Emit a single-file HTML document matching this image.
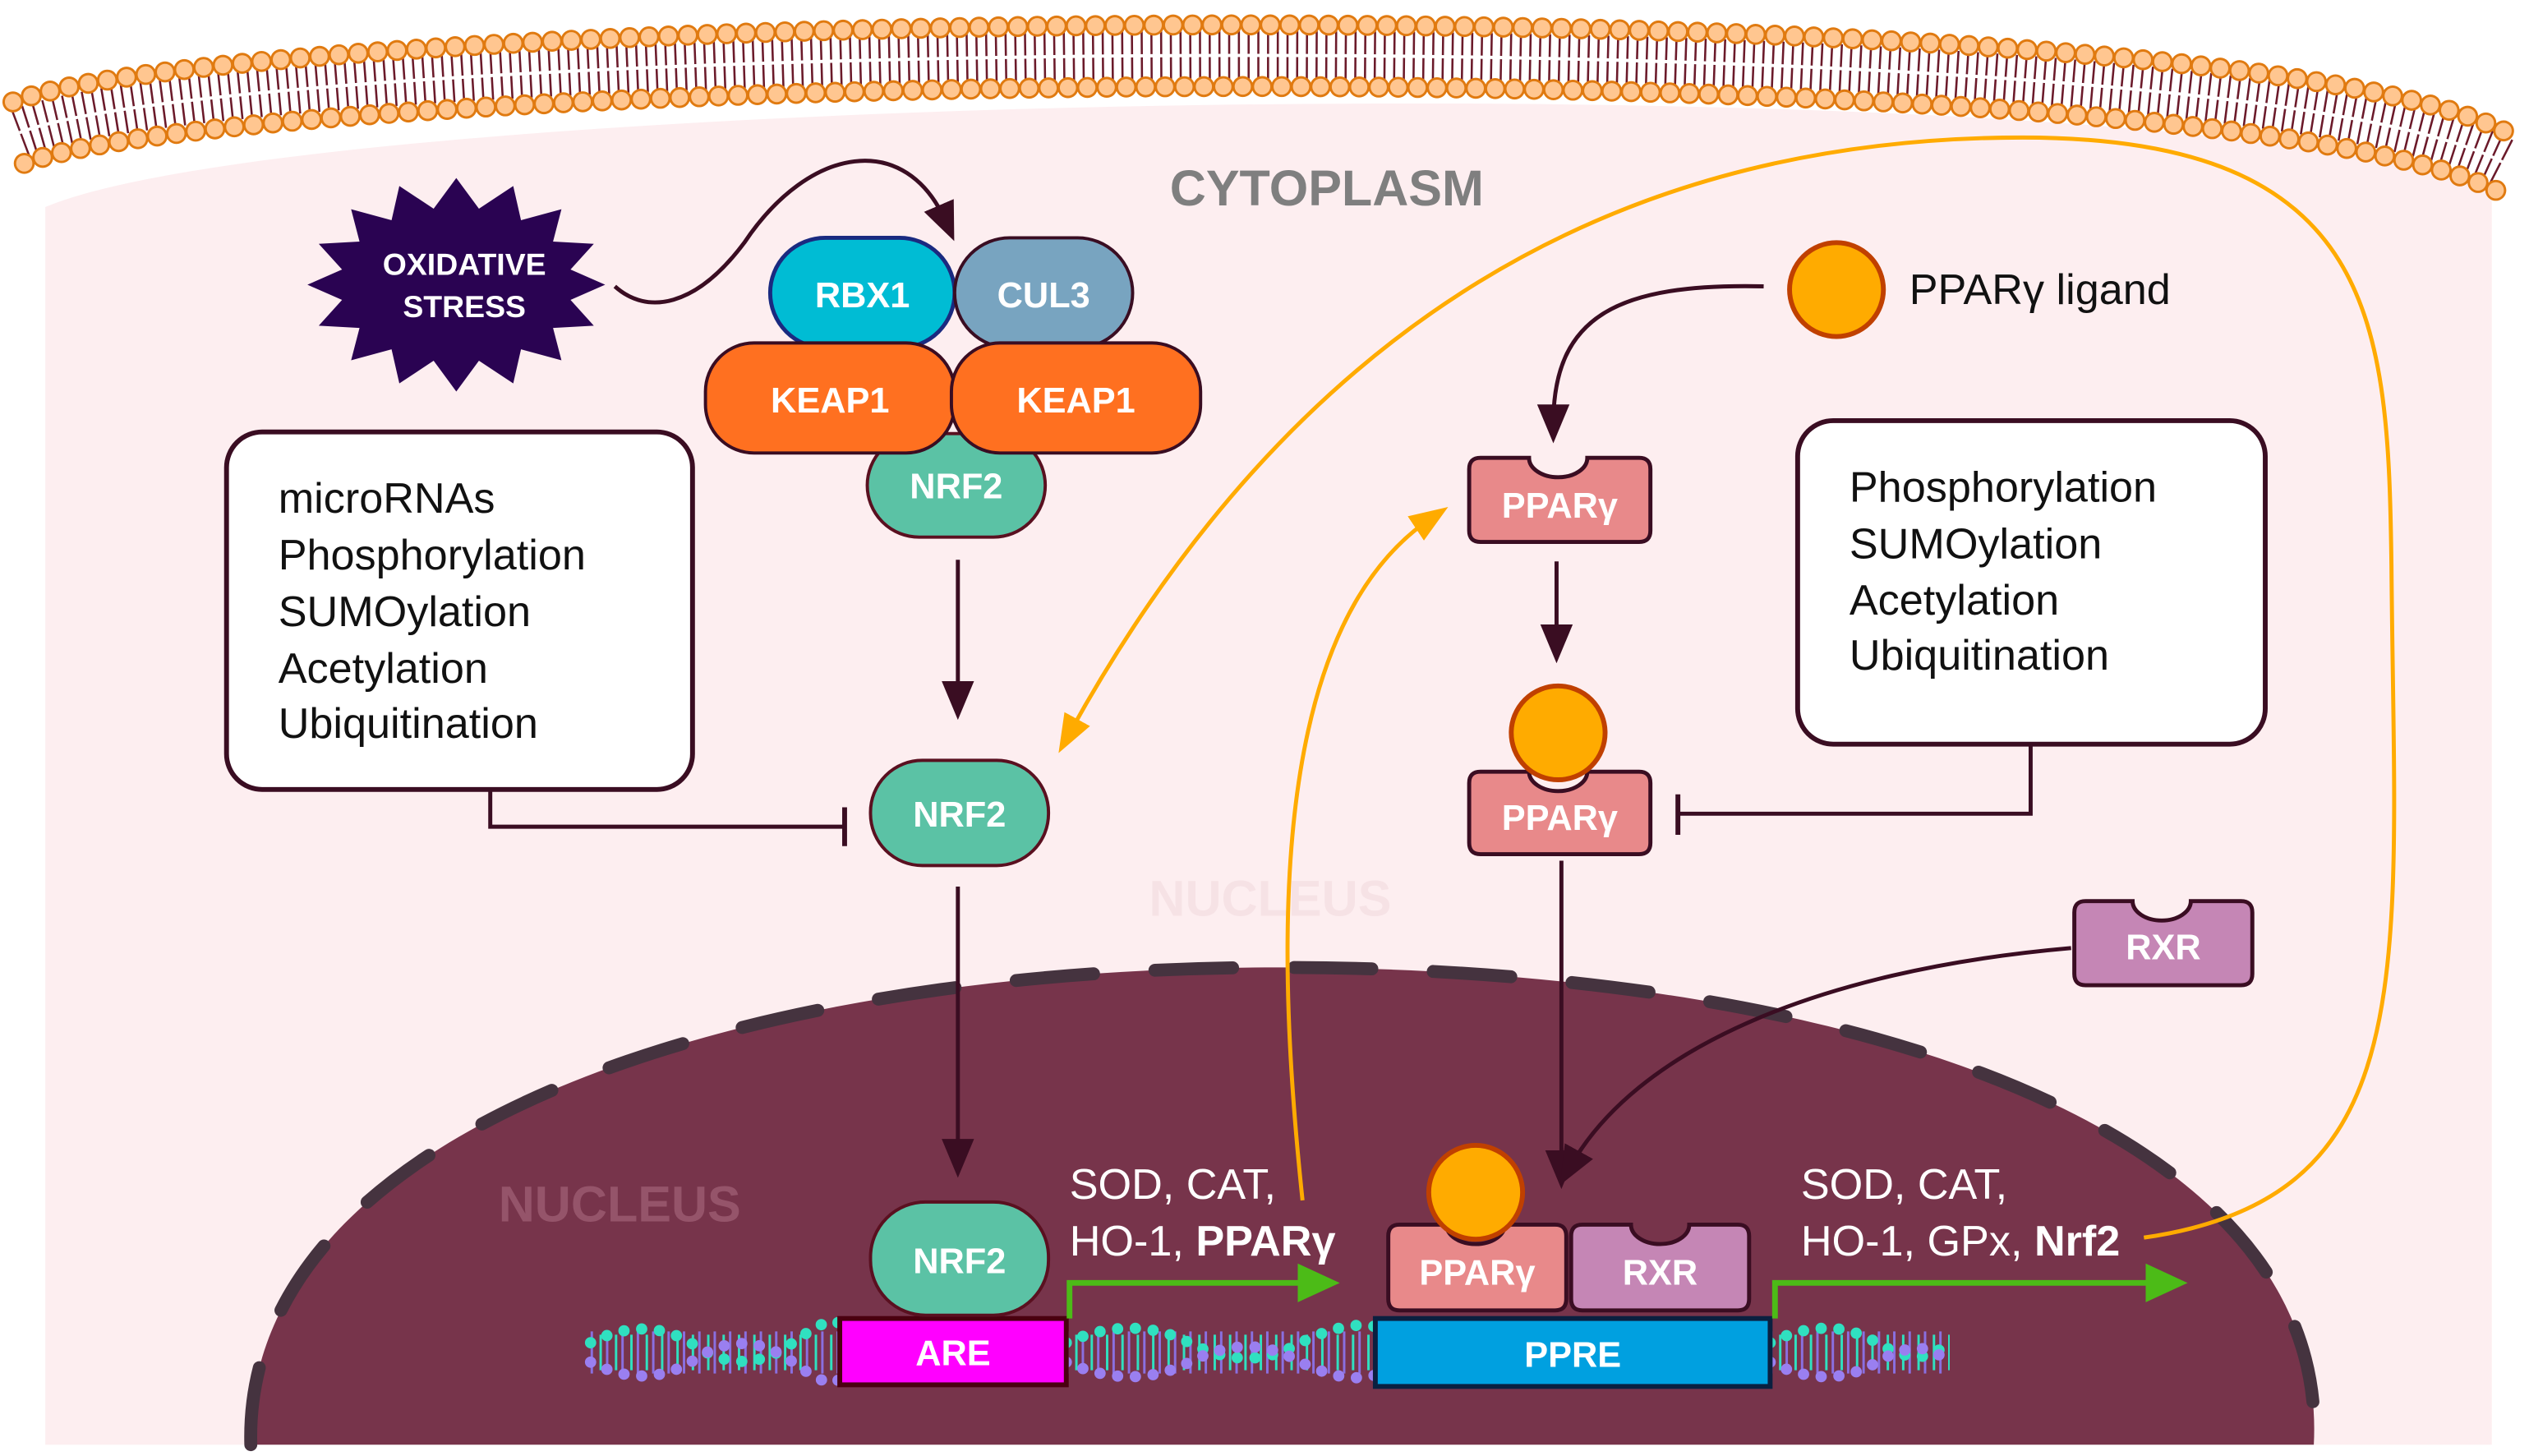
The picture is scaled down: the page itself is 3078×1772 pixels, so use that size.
<!DOCTYPE html>
<html><head><meta charset="utf-8"><style>html,body{margin:0;padding:0;background:#fff}svg{display:block}text{font-family:"Liberation Sans",sans-serif}</style></head>
<body>
<svg width="3078" height="1772" viewBox="0 0 1563 900" preserveAspectRatio="none" xmlns="http://www.w3.org/2000/svg">
<defs>
<marker id="ao" markerWidth="24" markerHeight="24" refX="12" refY="12" orient="auto" markerUnits="userSpaceOnUse"><path d="M0,3 L24,12 L0,21 Z" fill="#ffab00"/></marker>
<marker id="ak" markerWidth="24" markerHeight="24" refX="12" refY="12" orient="auto" markerUnits="userSpaceOnUse"><path d="M0,2 L24,12 L0,22 Z" fill="#3a0d22"/></marker>
<marker id="ag" markerWidth="28" markerHeight="28" refX="4" refY="14" orient="auto" markerUnits="userSpaceOnUse"><path d="M0,2 L26,14 L0,26 Z" fill="#4cbb17"/></marker>
</defs>
<rect width="1563" height="900" fill="#fff"/>
<path d="M28,893 L28,128 C200,55 1350,35 1540,118 L1540,893 Z" fill="#fdeef0"/>
<path d="M12,82 C160,25 1380,5 1550,102" fill="none" stroke="#6b1a2a" stroke-width="30" stroke-dasharray="1.3 4.7"/>
<path d="M12,82 C160,25 1380,5 1550,102" fill="none" stroke="#fff" stroke-width="2"/>
<path d="M8,63 C155,6 1385,-14 1553,84" fill="none" stroke="#e07a10" stroke-width="13" stroke-linecap="round" stroke-dasharray="0 12"/>
<path d="M8,63 C155,6 1385,-14 1553,84" fill="none" stroke="#ffc690" stroke-width="10" stroke-linecap="round" stroke-dasharray="0 12"/>
<path d="M15,101 C165,44 1375,25 1547,120" fill="none" stroke="#e07a10" stroke-width="13" stroke-linecap="round" stroke-dasharray="0 12"/>
<path d="M15,101 C165,44 1375,25 1547,120" fill="none" stroke="#ffc690" stroke-width="10" stroke-linecap="round" stroke-dasharray="0 12"/>
<path d="M155,893 C150,700 450,598 790,598 C1150,598 1440,700 1430,893 Z" fill="#77344b"/>
<path d="M155,893 C150,700 450,598 790,598 C1150,598 1440,700 1430,893" fill="none" stroke="#45333f" stroke-width="8" stroke-linecap="round" stroke-dasharray="48 38"/>
<text x="820" y="127" font-size="31" font-weight="bold" fill="#7f7f7f" text-anchor="middle">CYTOPLASM</text>
<text x="785" y="566" font-size="31" font-weight="bold" fill="#f6e2e5" text-anchor="middle">NUCLEUS</text>
<text x="383" y="755" font-size="31" font-weight="bold" fill="#95546a" text-anchor="middle">NUCLEUS</text>
<polygon points="374,176 352.6,185.4 367,201.3 341.8,202.7 347,222.7 322,215.9 317.2,237 296,223 282,242 268,223 246.8,237 242,215.9 217,222.7 222.2,202.7 197,201.3 211.4,185.4 190,176 211.4,166.6 197,150.7 222.2,149.3 217,129.3 242,136.1 246.8,115 268,129 282,110 296,129 317.2,115 322,136.1 347,129.3 341.8,149.3 367,150.7 352.6,166.6" fill="#2a0352"/>
<text x="287" y="170" font-size="19" font-weight="bold" fill="#fff" text-anchor="middle">OXIDATIVE</text>
<text x="287" y="196" font-size="19" font-weight="bold" fill="#fff" text-anchor="middle">STRESS</text>
<path d="M380,177 C400,195 430,190 460,150 C500,90 560,80 585,138" fill="none" stroke="#3a0d22" stroke-width="2.5" marker-end="url(#ak)"/>
<rect x="476" y="147" width="114" height="68" rx="34" fill="#00bcd4" stroke="#1a2a80" stroke-width="2.5"/>
<rect x="590" y="147" width="110" height="68" rx="34" fill="#78a4c0" stroke="#3a0d22" stroke-width="2"/>
<text x="533" y="190" font-size="22" font-weight="bold" fill="#fff" text-anchor="middle">RBX1</text>
<text x="645" y="190" font-size="22" font-weight="bold" fill="#fff" text-anchor="middle">CUL3</text>
<rect x="536" y="268" width="110" height="64" rx="32" fill="#5bc2a5" stroke="#5a1020" stroke-width="2"/>
<text x="591" y="308" font-size="22" font-weight="bold" fill="#fff" text-anchor="middle">NRF2</text>
<rect x="436" y="212" width="154" height="68" rx="30" fill="#ff7020" stroke="#3a0d22" stroke-width="2"/>
<rect x="588" y="212" width="154" height="68" rx="30" fill="#ff7020" stroke="#3a0d22" stroke-width="2"/>
<text x="513" y="255" font-size="22" font-weight="bold" fill="#fff" text-anchor="middle">KEAP1</text>
<text x="665" y="255" font-size="22" font-weight="bold" fill="#fff" text-anchor="middle">KEAP1</text>
<line x1="592" y1="346" x2="592" y2="433" stroke="#3a0d22" stroke-width="2.5" marker-end="url(#ak)"/>
<rect x="538" y="470" width="110" height="65" rx="32" fill="#5bc2a5" stroke="#5a1020" stroke-width="2"/>
<text x="593" y="511" font-size="22" font-weight="bold" fill="#fff" text-anchor="middle">NRF2</text>
<line x1="592" y1="548" x2="592" y2="716" stroke="#3a0d22" stroke-width="2.5" marker-end="url(#ak)"/>
<rect x="140" y="267" width="288" height="221" rx="22" fill="#fff" stroke="#3a0d22" stroke-width="3"/>
<g font-size="26.5" fill="#111"><text x="172" y="317">microRNAs</text><text x="172" y="352">Phosphorylation</text><text x="172" y="387">SUMOylation</text><text x="172" y="422">Acetylation</text><text x="172" y="456">Ubiquitination</text></g>
<polyline points="303,488 303,511 522,511" fill="none" stroke="#3a0d22" stroke-width="2.5"/>
<line x1="522" y1="499" x2="522" y2="523" stroke="#3a0d22" stroke-width="3"/>
<rect x="1111" y="260" width="289" height="200" rx="22" fill="#fff" stroke="#3a0d22" stroke-width="3"/>
<g font-size="26.5" fill="#111"><text x="1143" y="310">Phosphorylation</text><text x="1143" y="345">SUMOylation</text><text x="1143" y="380">Acetylation</text><text x="1143" y="414">Ubiquitination</text></g>
<polyline points="1255,460 1255,503 1037,503" fill="none" stroke="#3a0d22" stroke-width="2.5"/>
<line x1="1037" y1="491" x2="1037" y2="516" stroke="#3a0d22" stroke-width="3"/>
<circle cx="1135" cy="179" r="29" fill="#ffab00" stroke="#c04000" stroke-width="3"/>
<text x="1180" y="188" font-size="26.5" fill="#111">PPARγ ligand</text>
<path d="M1090,177 C1000,175 960,195 960,262" fill="none" stroke="#3a0d22" stroke-width="2.5" marker-end="url(#ak)"/>
<path d="M908,290 Q908,283 915,283 L945,283 A18,12 0 0 0 981,283 L1013,283 Q1020,283 1020,290 L1020,328 Q1020,335 1013,335 L915,335 Q908,335 908,328 Z" fill="#e8898a" stroke="#3a0d22" stroke-width="2.5"/>
<text x="964" y="320" font-size="22" font-weight="bold" fill="#fff" text-anchor="middle">PPARγ</text>
<line x1="962" y1="347" x2="962" y2="398" stroke="#3a0d22" stroke-width="2.5" marker-end="url(#ak)"/>
<path d="M908,484 Q908,477 915,477 L945,477 A18,12 0 0 0 981,477 L1013,477 Q1020,477 1020,484 L1020,521 Q1020,528 1013,528 L915,528 Q908,528 908,521 Z" fill="#e8898a" stroke="#3a0d22" stroke-width="2.5"/>
<circle cx="963" cy="453" r="29" fill="#ffab00" stroke="#c04000" stroke-width="3"/>
<text x="964" y="513" font-size="22" font-weight="bold" fill="#fff" text-anchor="middle">PPARγ</text>
<line x1="965" y1="532" x2="965" y2="723" stroke="#3a0d22" stroke-width="2.5" marker-end="url(#ak)"/>
<path d="M1282,564 Q1282,557 1289,557 L1318,557 A18,12 0 0 0 1354,557 L1385,557 Q1392,557 1392,564 L1392,602 Q1392,609 1385,609 L1289,609 Q1282,609 1282,602 Z" fill="#c586b5" stroke="#3a0d22" stroke-width="2.5"/>
<text x="1337" y="593" font-size="22" font-weight="bold" fill="#fff" text-anchor="middle">RXR</text>
<path d="M1280,586 C1120,600 1010,650 970,722" fill="none" stroke="#3a0d22" stroke-width="2.5" marker-end="url(#ak)"/>
<g>
<path d="M365,836 L519,836 M659,836 L850,836 M1094,836 L1205,836" stroke="#8a6fe0" stroke-width="26" stroke-dasharray="1.5 8" fill="none"/>
<path d="M365,836 L519,836 M659,836 L850,836 M1094,836 L1205,836" stroke="#30e0c0" stroke-width="22" stroke-dasharray="1.5 8" stroke-dashoffset="4" fill="none"/>
<path d="M365,830 Q400,812 430,832 T490,830 T519,822 M659,830 Q700,812 735,830 T800,832 T850,820 M1094,830 Q1130,812 1160,830 T1205,828" stroke="#30e0c0" stroke-width="7" stroke-linecap="round" stroke-dasharray="0 11" fill="none"/>
<path d="M365,842 Q400,860 430,840 T490,842 T519,848 M659,842 Q700,860 735,842 T800,840 T850,850 M1094,842 Q1130,860 1160,842 T1205,844" stroke="#9a7ff0" stroke-width="7" stroke-linecap="round" stroke-dasharray="0 11" fill="none"/>
</g>
<rect x="519" y="815" width="140" height="41" fill="#ff00ff" stroke="#4a0010" stroke-width="3"/>
<text x="589" y="844" font-size="22" font-weight="bold" fill="#fff" text-anchor="middle">ARE</text>
<rect x="850" y="815" width="244" height="42" fill="#00a0e0" stroke="#0a2040" stroke-width="3"/>
<text x="972" y="845" font-size="22" font-weight="bold" fill="#fff" text-anchor="middle">PPRE</text>
<rect x="538" y="743" width="110" height="70" rx="34" fill="#5bc2a5" stroke="#5a1020" stroke-width="2"/>
<text x="593" y="787" font-size="22" font-weight="bold" fill="#fff" text-anchor="middle">NRF2</text>
<path d="M858,764 Q858,757 865,757 L894,757 A18,12 0 0 0 930,757 L961,757 Q968,757 968,764 L968,803 Q968,810 961,810 L865,810 Q858,810 858,803 Z" fill="#e8898a" stroke="#3a0d22" stroke-width="2.5"/>
<circle cx="912" cy="737" r="29" fill="#ffab00" stroke="#c04000" stroke-width="3"/>
<text x="913" y="794" font-size="22" font-weight="bold" fill="#fff" text-anchor="middle">PPARγ</text>
<path d="M971,764 Q971,757 978,757 L1008,757 A18,12 0 0 0 1044,757 L1074,757 Q1081,757 1081,764 L1081,803 Q1081,810 1074,810 L978,810 Q971,810 971,803 Z" fill="#c586b5" stroke="#3a0d22" stroke-width="2.5"/>
<text x="1026" y="794" font-size="22" font-weight="bold" fill="#fff" text-anchor="middle">RXR</text>
<g font-size="26.5" fill="#fff"><text x="661" y="741">SOD, CAT,</text><text x="661" y="776">HO-1, <tspan font-weight="bold">PPARγ</tspan></text>
<text x="1113" y="741">SOD, CAT,</text><text x="1113" y="776">HO-1, GPx, <tspan font-weight="bold">Nrf2</tspan></text></g>
<polyline points="661,815 661,793 806,793" fill="none" stroke="#4cbb17" stroke-width="3.5" marker-end="url(#ag)"/>
<polyline points="1097,815 1097,793 1330,793" fill="none" stroke="#4cbb17" stroke-width="3.5" marker-end="url(#ag)"/>
<path d="M805,742 C790,600 780,390 885,320" fill="none" stroke="#ffab00" stroke-width="2.5" marker-end="url(#ao)"/>
<path d="M1325,765 C1500,740 1480,600 1478,350 C1476,200 1470,85 1250,85 C1000,85 800,200 660,455" fill="none" stroke="#ffab00" stroke-width="2.5" marker-end="url(#ao)"/>
</svg>
</body></html>
